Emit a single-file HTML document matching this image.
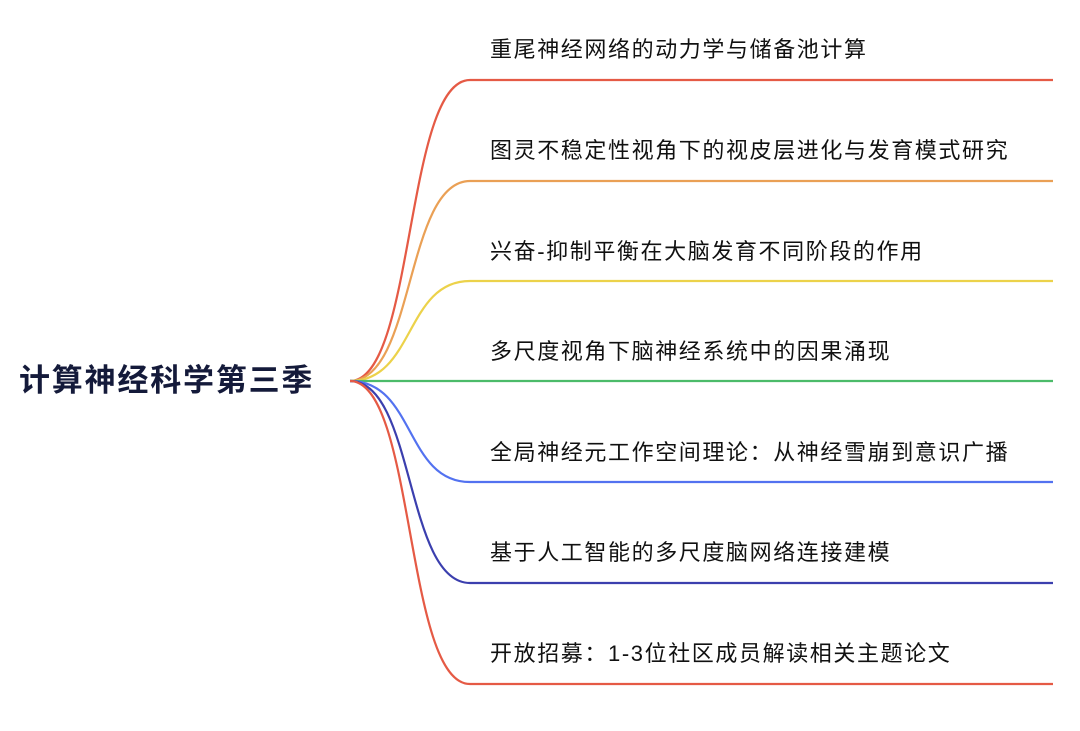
<!DOCTYPE html>
<html><head><meta charset="utf-8"><style>
body{margin:0;background:#fff;width:1080px;height:731px;overflow:hidden;font-family:"Liberation Sans","Noto Sans CJK SC",sans-serif}
svg{position:absolute;left:0;top:0}
.t{position:absolute;left:490px;font-size:22px;letter-spacing:1.6px;color:#111;white-space:nowrap;line-height:26px}
.root{position:absolute;left:19px;top:361px;font-size:31px;font-weight:bold;color:#141a3a;line-height:40px;letter-spacing:1.8px}
</style></head><body>
<svg width="1080" height="731" fill="none" stroke-width="2.2">
<path d="M350,381 C415,381 405,80 470,80 L1053,80" stroke="#e55a45"/>
<path d="M350,381 C415,381 405,181 470,181 L1053,181" stroke="#eaa055"/>
<path d="M350,381 C415,381 405,281 470,281 L1053,281" stroke="#ecd24a"/>
<path d="M350,381 L1053,381" stroke="#4cbb6a"/>
<path d="M350,381 C415,381 405,482 470,482 L1053,482" stroke="#5372f0"/>
<path d="M350,381 C415,381 405,583 470,583 L1053,583" stroke="#3b3fae"/>
<path d="M350,381 C415,381 405,684 470,684 L1053,684" stroke="#e55a45"/>
</svg>
<div class="root">计算神经科学第三季</div>
<div class="t" style="top:37px">重尾神经网络的动力学与储备池计算</div>
<div class="t" style="top:138px">图灵不稳定性视角下的视皮层进化与发育模式研究</div>
<div class="t" style="top:239px">兴奋-抑制平衡在大脑发育不同阶段的作用</div>
<div class="t" style="top:339px">多尺度视角下脑神经系统中的因果涌现</div>
<div class="t" style="top:440px">全局神经元工作空间理论：从神经雪崩到意识广播</div>
<div class="t" style="top:540px">基于人工智能的多尺度脑网络连接建模</div>
<div class="t" style="top:641px">开放招募：1-3位社区成员解读相关主题论文</div>
</body></html>
